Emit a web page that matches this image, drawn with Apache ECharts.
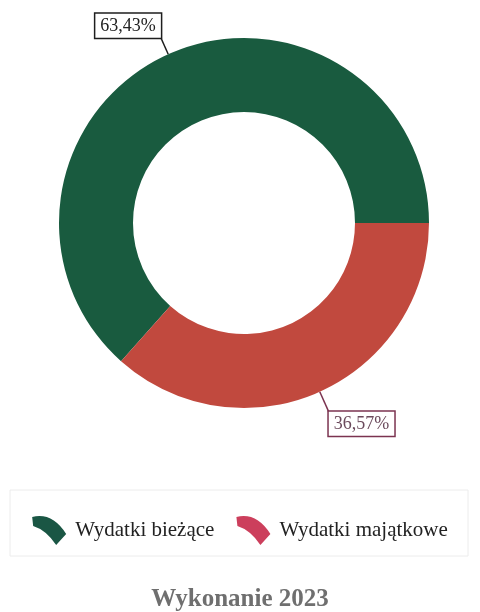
<!DOCTYPE html>
<html>
<head>
<meta charset="utf-8">
<script src="https://cdn.jsdelivr.net/npm/echarts@6/dist/echarts.min.js"></script>
<style>
html,body{margin:0;padding:0;background:#fff;}
#c{width:480px;height:612px;}
</style>
</head>
<body>
<div id="c"></div>
<script>
const categories = ['Wydatki bieżące', 'Wydatki majątkowe'];
const values = [63.43, 36.57];
const sliceColors = ['#195b3f', '#c1493e'];
const legendColors = ['#1a5644', '#cc3f5c'];
const labelTextColors = ['#222222', '#6b4a5c'];
const labelBorderColors = ['#1e1e1e', '#7b3350'];
const titleText = 'Wykonanie 2023';

const chart = echarts.init(document.getElementById('c'), null, {renderer: 'canvas'});

const iconPath = 'path://M0,3 Q20,-2 34,20 L24,31 Q14,16 1,12 Z';

const option = {
  backgroundColor: '#ffffff',
  animation: false,
  title: {
    text: titleText,
    left: 'center',
    top: 582,
    textStyle: {
      fontFamily: 'Liberation Serif',
      fontWeight: 'bold',
      fontSize: 25,
      color: '#6f6f6f'
    }
  },
  graphic: [{
    type: 'rect',
    shape: {x: 10, y: 490, width: 458, height: 66},
    style: {fill: 'none', stroke: '#ececec', lineWidth: 1},
    silent: true
  }],
  legend: {
    top: 511,
    left: 'center',
    itemWidth: 34,
    itemHeight: 30,
    itemGap: 22,
    icon: iconPath,
    data: categories.map((c, i) => ({name: c, itemStyle: {color: legendColors[i]}})),
    textStyle: {
      fontFamily: 'Liberation Serif',
      fontSize: 21,
      color: '#222',
      padding: [0, 0, 0, 4]
    }
  },
  series: [{
    type: 'pie',
    center: [244, 223],
    radius: [111, 185],
    startAngle: 228.35,
    clockwise: true,
    avoidLabelOverlap: false,
    data: categories.map((c, i) => ({
      name: c,
      value: values[i],
      itemStyle: {color: sliceColors[i]},
      label: {color: labelTextColors[i], borderColor: labelBorderColors[i]},
      labelLine: {lineStyle: {color: labelBorderColors[i]}}
    })),
    label: {
      show: true,
      position: 'outside',
      formatter: p => p.value.toFixed(2).replace('.', ',') + '%',
      fontFamily: 'Liberation Serif',
      fontSize: 18,
      lineHeight: 19,
      backgroundColor: '#ffffff',
      borderWidth: 1.5,
      padding: [3, 5, 2, 5]
    },
    labelLine: {
      show: true,
      length: 20,
      length2: 10,
      lineStyle: {width: 1.5}
    },
    labelLayout: function (params) {
      const pts = params.labelLinePoints;
      if (!pts) return {};
      const p0 = pts[0], p1 = pts[1];
      const dx = p1[0] - p0[0], dy = p1[1] - p0[1];
      const len = Math.sqrt(dx * dx + dy * dy) || 1;
      const L = dy < 0 ? 18 : 22;
      const end = [p0[0] + dx / len * L, p0[1] + dy / len * L];
      const left = dx < 0;
      const up = dy < 0;
      return {
        x: end[0],
        y: end[1],
        align: left ? 'right' : 'left',
        verticalAlign: up ? 'bottom' : 'top',
        labelLinePoints: [p0, end, end]
      };
    },
    emphasis: {disabled: true}
  }]
};
chart.setOption(option);
</script>
</body>
</html>
